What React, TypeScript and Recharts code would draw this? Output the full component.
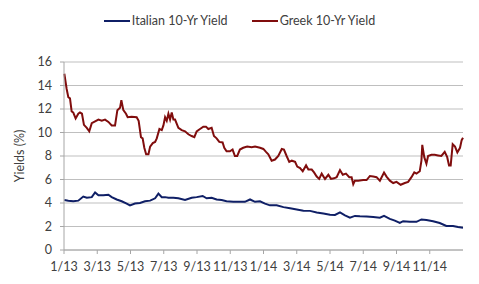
import { LineChart, Line, XAxis, YAxis, CartesianGrid, Legend } from "recharts"

// month offsets from Jan 2013 and 10-year yields (%)
const greekMonth = [
  0.02, 0.16, 0.26, 0.36, 0.46, 0.56, 0.7, 0.86, 0.96, 1.08, 1.2, 1.37, 1.52, 1.67, 1.87, 2.07, 2.27, 2.47, 2.67, 2.87,
  3.07, 3.21, 3.37, 3.45, 3.57, 3.73, 3.83, 4.07, 4.37, 4.49, 4.63, 4.73, 4.83, 4.94, 5.08, 5.18, 5.34, 5.48, 5.58, 5.74,
  5.88, 5.98, 6.08, 6.18, 6.28, 6.38, 6.48, 6.58, 6.68, 6.88, 7.08, 7.28, 7.48, 7.68, 7.84, 7.98, 8.18, 8.38, 8.54, 8.68,
  8.88, 9.02, 9.18, 9.34, 9.54, 9.64, 9.78, 9.98, 10.14, 10.28, 10.42, 10.58, 10.78, 11.02, 11.29, 11.49, 11.79, 11.99,
  12.15, 12.29, 12.49, 12.69, 12.89, 13.1, 13.23, 13.39, 13.55, 13.7, 13.9, 14.03, 14.2, 14.36, 14.56, 14.7, 14.9, 15.04,
  15.2, 15.35, 15.5, 15.7, 15.9, 16.06, 16.24, 16.4, 16.6, 16.77, 16.96, 17.16, 17.3, 17.4, 17.5, 17.7, 18.0, 18.2, 18.4,
  18.6, 18.8, 19.0, 19.25, 19.4, 19.6, 19.8, 20.0, 20.25, 20.5, 20.7, 20.9, 21.07, 21.2, 21.4, 21.5, 21.55, 21.67, 21.8,
  21.9, 22.1, 22.3, 22.5, 22.7, 22.9, 23.05, 23.16, 23.26, 23.38, 23.52, 23.66, 23.82, 23.92, 24.0,
]
const greekYield = [
  15.0, 13.7, 13.0, 12.9, 11.8, 11.7, 11.2, 11.6, 11.7, 11.6, 10.65, 10.4, 10.1, 10.8, 10.95, 11.1, 11.0, 11.1, 10.9, 10.6,
  10.6, 11.9, 12.1, 12.75, 11.9, 11.6, 11.3, 11.35, 11.3, 11.0, 9.6, 9.5, 8.7, 8.15, 8.15, 8.8, 9.1, 9.2, 9.5, 10.3,
  10.2, 10.6, 11.3, 11.0, 11.6, 11.1, 11.7, 11.1, 11.1, 10.4, 10.2, 10.1, 9.85, 9.7, 9.6, 10.1, 10.3, 10.5, 10.5, 10.3,
  10.4, 9.7, 9.5, 9.2, 9.15, 8.7, 8.4, 8.4, 8.55, 8.0, 8.0, 8.55, 8.7, 8.8, 8.75, 8.8, 8.7, 8.6,
  8.35, 8.15, 7.6, 7.7, 8.0, 8.6, 8.55, 8.0, 7.5, 7.6, 7.5, 7.1, 6.97, 6.7, 7.2, 6.85, 6.85, 6.6,
  6.25, 6.05, 6.5, 6.05, 6.4, 6.05, 6.1, 6.2, 6.8, 6.4, 6.5, 6.2, 6.2, 5.6, 5.9, 5.9, 5.95, 5.95, 6.3,
  6.25, 6.2, 5.9, 6.6, 6.25, 5.9, 5.7, 5.8, 5.55, 5.7, 5.8, 6.2, 6.6, 6.5, 6.7, 7.6, 8.95, 7.9, 7.35,
  8.0, 8.1, 8.1, 8.05, 8.0, 8.35, 7.9, 7.2, 7.2, 9.0, 8.8, 8.3, 8.7, 9.35, 9.55,
]

const italianMonth = [
  0.02, 0.26, 0.56, 0.86, 1.16, 1.37, 1.67, 1.87, 2.07, 2.37, 2.67, 2.87, 3.17, 3.47, 3.77, 3.97, 4.27, 4.57, 4.87, 5.18,
  5.48, 5.68, 5.88, 6.08, 6.28, 6.58, 6.88, 7.28, 7.68, 7.98, 8.34, 8.58, 8.88, 9.18, 9.48, 9.78, 10.18, 10.58, 10.88,
  11.19, 11.49, 11.79, 12.09, 12.39, 12.79, 13.2, 13.6, 14.0, 14.4, 14.8, 15.2, 15.6, 16.0, 16.3, 16.6, 16.9, 17.2, 17.5,
  17.8, 18.2, 18.6, 19.0, 19.25, 19.6, 19.9, 20.2, 20.4, 20.8, 21.2, 21.5, 21.8, 22.2, 22.6, 23.0, 23.4, 23.7, 24.0,
]
const italianYield = [
  4.25, 4.2, 4.15, 4.2, 4.55, 4.45, 4.5, 4.9, 4.65, 4.65, 4.7, 4.5, 4.3, 4.15, 3.95, 3.8, 3.95, 4.0, 4.15, 4.2,
  4.4, 4.8, 4.5, 4.5, 4.45, 4.45, 4.4, 4.25, 4.45, 4.5, 4.6, 4.4, 4.45, 4.3, 4.25, 4.15, 4.1, 4.1, 4.1,
  4.3, 4.1, 4.15, 3.95, 3.8, 3.8, 3.65, 3.55, 3.45, 3.35, 3.33, 3.2, 3.1, 3.0, 2.98, 3.2, 2.95, 2.75, 2.9,
  2.87, 2.85, 2.8, 2.75, 2.9, 2.65, 2.5, 2.3, 2.45, 2.4, 2.4, 2.6, 2.55, 2.45, 2.3, 2.05, 2.05, 1.95, 1.9,
]

const monthTicks = [0, 2, 4, 6, 8, 10, 12, 14, 16, 18, 20, 22]
const yieldTicks = [0, 2, 4, 6, 8, 10, 12, 14, 16]

const ITALY = "#0f1f66"
const GREECE = "#800d0d"
const TEXT = "#404040"
const FONT = "Lato, 'Open Sans', sans-serif"

const greekData = greekMonth.map((m, i) => ({ m, y: greekYield[i] }))
const italianData = italianMonth.map((m, i) => ({ m, y: italianYield[i] }))

const monthLabel = (m: number) => `${(m % 12) + 1}/${13 + Math.floor(m / 12)}`

function YieldLegend() {
  const items = [
    { name: "Italian 10-Yr Yield", color: ITALY },
    { name: "Greek 10-Yr Yield", color: GREECE },
  ]
  return (
    <div style={{ display: "flex", justifyContent: "center", gap: 24, fontFamily: FONT, fontSize: 12.5, color: TEXT }}>
      {items.map((it) => (
        <div key={it.name} style={{ display: "flex", alignItems: "center" }}>
          <span style={{ width: 26, height: 2, background: it.color, marginRight: 2 }} />
          <span>{it.name}</span>
        </div>
      ))}
    </div>
  )
}

export default function App() {
  return (
    <div style={{ position: "absolute", left: 0, top: 0, width: 479, height: 284, background: "#fff" }}>
      <LineChart width={479} height={284} margin={{ top: 47, right: 16, bottom: 14, left: 10 }}>
        <Legend
          verticalAlign="top"
          height={0}
          content={<YieldLegend />}
          wrapperStyle={{ top: 13, left: 0, width: 479 }}
        />
        <CartesianGrid horizontal vertical={false} stroke="#bfbfbf" strokeWidth={1} />
        <XAxis
          type="number"
          dataKey="m"
          domain={[0, 24]}
          ticks={monthTicks}
          tickFormatter={monthLabel}
          allowDuplicatedCategory={false}
          stroke="#a6a6a6"
          tickSize={4}
          tickMargin={8}
          height={20}
          tick={{ fill: TEXT, fontSize: 12.5, fontFamily: FONT }}
        />
        <YAxis
          domain={[0, 16]}
          ticks={yieldTicks}
          stroke="#a6a6a6"
          tickSize={4}
          tickMargin={8}
          width={54}
          tick={{ fill: TEXT, fontSize: 12.5, fontFamily: FONT }}
          label={{
            value: "Yields (%)",
            angle: -90,
            position: "insideLeft",
            offset: 10,
            style: { fill: TEXT, fontSize: 12.5, fontFamily: FONT, textAnchor: "middle" },
          }}
        />
        <Line
          data={italianData}
          dataKey="y"
          name="Italian 10-Yr Yield"
          stroke={ITALY}
          strokeWidth={2}
          dot={false}
          type="linear"
          isAnimationActive={false}
        />
        <Line
          data={greekData}
          dataKey="y"
          name="Greek 10-Yr Yield"
          stroke={GREECE}
          strokeWidth={2}
          dot={false}
          type="linear"
          isAnimationActive={false}
        />
      </LineChart>
    </div>
  )
}
